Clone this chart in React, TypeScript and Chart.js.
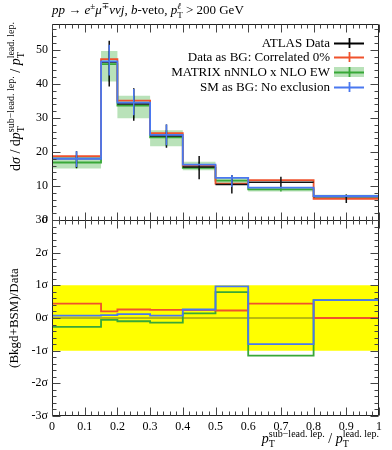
import React, { useEffect, useRef } from "react";
import { Chart, registerables } from "chart.js";

Chart.register(...registerables);

// ---------- data ----------
const binEdges = [0, 0.15, 0.2, 0.3, 0.4, 0.5, 0.6, 0.8, 1.0];

const dataValues = [18.1, 46.4, 34.1, 24.7, 15.6, 10.4, 11.1, 6.8];
const dataErrLo = [15.3, 39.2, 29.2, 21.2, 12.0, 7.8, 9.7, 5.0];
const dataErrHi = [20.2, 52.7, 38.7, 28.1, 18.8, 13.2, 12.7, 7.5];

const redValues = [18.8, 47.3, 35.1, 25.5, 16.0, 10.7, 11.7, 6.2];
const blueValues = [18.0, 46.6, 34.5, 25.0, 16.3, 12.4, 9.5, 7.05];
const blueErrLo = [15.6, 42.5, 30.8, 22.0, null, 9.7, null, null];
const blueErrHi = [20.2, 51.5, 38.5, 28.1, null, 13.2, null, null];

const greenValues = [16.9, 45.8, 33.6, 24.3, 15.3, 11.6, 9.0, 7.0];
const greenBandLo = [15.1, 40.7, 29.9, 21.7, 14.6, 10.8, 8.4, 6.6];
const greenBandHi = [18.8, 49.7, 36.5, 26.4, 17.1, 12.4, 9.6, 7.4];

const redSigma = [0.44, 0.2, 0.26, 0.25, 0.24, 0.23, 0.44, 0.0];
const blueSigma = [0.07, 0.09, 0.12, 0.07, 0.26, 0.97, -0.8, 0.55];
const greenSigma = [-0.27, -0.06, -0.1, -0.14, 0.14, 0.79, -1.15, 0.55];

const legendLabels = [
  "ATLAS Data",
  "Data as BG: Correlated 0%",
  "MATRIX nNNLO x NLO EW",
  "SM as BG: No exclusion",
];

// ---------- styles ----------
const RED = "#f0522c";
const BLUE = "#4a78f0";
const GREEN = "#38a838";
const BAND = "rgba(70,180,70,0.38)";
const FONT = '"Liberation Serif", "DejaVu Serif", serif';

type Pt = { x: number; y: number | null };

function stepPoints(vals: number[]): Pt[] {
  const pts: Pt[] = vals.map((v, i) => ({ x: binEdges[i], y: v }));
  pts.push({ x: binEdges[binEdges.length - 1], y: vals[vals.length - 1] });
  return pts;
}
function hSegments(vals: number[]): Pt[] {
  const pts: Pt[] = [];
  vals.forEach((v, i) => {
    pts.push({ x: binEdges[i], y: v });
    pts.push({ x: binEdges[i + 1], y: v });
    pts.push({ x: binEdges[i + 1], y: null });
  });
  return pts;
}
function vErrors(lo: (number | null)[], hi: (number | null)[]): Pt[] {
  const pts: Pt[] = [];
  lo.forEach((l, i) => {
    const h = hi[i];
    if (l == null || h == null) return;
    const c = (binEdges[i] + binEdges[i + 1]) / 2;
    pts.push({ x: c, y: l });
    pts.push({ x: c, y: h });
    pts.push({ x: c, y: null });
  });
  return pts;
}

function ds(label: string, data: Pt[], color: string, axis: string, extra: any = {}) {
  return {
    label,
    data,
    borderColor: color,
    backgroundColor: color,
    borderWidth: 1.8,
    pointRadius: 0,
    pointHoverRadius: 0,
    spanGaps: false,
    fill: false,
    yAxisID: axis,
    ...extra,
  };
}

// ---------- rich text ----------
type Seg = { t?: string; it?: boolean; sz?: number; sup?: string; sub?: string; supIt?: boolean };
function fnt(it: boolean | undefined, sz: number) {
  return `${it ? "italic " : ""}${sz}px ${FONT}`;
}
function segWidth(ctx: CanvasRenderingContext2D, s: Seg, base: number) {
  if (s.t !== undefined) {
    ctx.font = fnt(s.it, s.sz || base);
    return ctx.measureText(s.t).width;
  }
  const small = Math.round(base * 0.7);
  ctx.font = fnt(s.supIt, small);
  const a = s.sup ? ctx.measureText(s.sup).width : 0;
  ctx.font = fnt(false, small);
  const b = s.sub ? ctx.measureText(s.sub).width : 0;
  return Math.max(a, b);
}
function drawRich(
  ctx: CanvasRenderingContext2D,
  segs: Seg[],
  x: number,
  y: number,
  base: number,
  align: "left" | "right" | "center"
) {
  const total = segs.reduce((a, s) => a + segWidth(ctx, s, base), 0);
  let cx = align === "left" ? x : align === "right" ? x - total : x - total / 2;
  ctx.textAlign = "left";
  ctx.textBaseline = "alphabetic";
  for (const s of segs) {
    const w = segWidth(ctx, s, base);
    if (s.t !== undefined) {
      ctx.font = fnt(s.it, s.sz || base);
      ctx.fillText(s.t, cx, y);
    } else {
      const small = Math.round(base * 0.7);
      if (s.sup) {
        ctx.font = fnt(s.supIt, small);
        ctx.fillText(s.sup, cx, y - base * 0.42);
      }
      if (s.sub) {
        ctx.font = fnt(false, small);
        ctx.fillText(s.sub, cx, y + base * 0.3);
      }
    }
    cx += w;
  }
}

const titleSegs: Seg[] = [
  { t: "pp", it: true },
  { t: " \u2192 " },
  { t: "e", it: true },
  { sup: "\u00b1" },
  { t: "\u03bc", it: true },
  { sup: "\u2213" },
  { t: "\u03bd\u03bdj", it: true },
  { t: ", " },
  { t: "b", it: true },
  { t: "-veto, " },
  { t: "p", it: true },
  { sup: "\u2113", supIt: true, sub: "T" },
  { t: " > 200 GeV" },
];
const yTitleSegs: Seg[] = [
  { t: "d" },
  { t: "\u03c3", it: true },
  { t: " / d" },
  { t: "p", it: true },
  { sup: "sub\u2212lead. lep.", sub: "T" },
  { t: " / " },
  { t: "p", it: true },
  { sup: "lead. lep.", sub: "T" },
];
const xTitleSegs: Seg[] = [
  { t: "p", it: true },
  { sup: "sub\u2212lead. lep.", sub: "T" },
  { t: " / " },
  { t: "p", it: true },
  { sup: "lead. lep.", sub: "T" },
];

const decor = {
  id: "decor",
  afterDraw(chart: any) {
    const ctx: CanvasRenderingContext2D = chart.ctx;
    const xs = chart.scales.x;
    const ys = chart.scales.y;
    const y2 = chart.scales.y2;
    const L = Math.round(chart.chartArea.left) + 0.5;
    const R = Math.round(chart.chartArea.right) - 0.5;
    const T1 = Math.round(ys.top) + 0.5;
    const B1 = Math.round(ys.bottom) + 0.5;
    const B2 = Math.round(y2.bottom) - 0.5;
    ctx.save();
    ctx.strokeStyle = "#222";
    ctx.lineWidth = 1;
    ctx.beginPath();
    ctx.rect(L, T1, R - L, B2 - T1);
    ctx.moveTo(L, B1);
    ctx.lineTo(R, B1);
    ctx.stroke();

    ctx.strokeStyle = "#444";
    ctx.beginPath();
    // x ticks
    for (let i = 0; i <= 50; i++) {
      const v = i * 0.02;
      const px = Math.round(xs.getPixelForValue(v)) + 0.5;
      const len = i % 5 === 0 ? 8 : 4;
      ctx.moveTo(px, T1);
      ctx.lineTo(px, T1 + len);
      ctx.moveTo(px, B1 - len);
      ctx.lineTo(px, B1 + len);
      ctx.moveTo(px, B2);
      ctx.lineTo(px, B2 - len);
    }
    // top y ticks
    for (let i = 0; i <= 28; i++) {
      const v = i * 2;
      const py = Math.round(ys.getPixelForValue(v)) + 0.5;
      const len = i % 5 === 0 ? 8 : 4;
      ctx.moveTo(L, py);
      ctx.lineTo(L + len, py);
      ctx.moveTo(R, py);
      ctx.lineTo(R - len, py);
    }
    // bottom y ticks
    for (let i = -15; i <= 15; i++) {
      const v = i * 0.2;
      const py = Math.round(y2.getPixelForValue(v)) + 0.5;
      const len = i % 5 === 0 ? 8 : 4;
      ctx.moveTo(L, py);
      ctx.lineTo(L + len, py);
      ctx.moveTo(R, py);
      ctx.lineTo(R - len, py);
    }
    ctx.stroke();

    ctx.fillStyle = "#000";
    // title
    drawRich(ctx, titleSegs, 52, 14, 13, "left");
    // x title
    drawRich(ctx, xTitleSegs, R + 0.5, 443, 14, "right");
    // y title top (rotated)
    ctx.save();
    ctx.translate(20, 22);
    ctx.rotate(-Math.PI / 2);
    drawRich(ctx, yTitleSegs, 0, 0, 14, "right");
    ctx.restore();
    // y title bottom
    ctx.save();
    ctx.translate(18, (y2.top + y2.bottom) / 2);
    ctx.rotate(-Math.PI / 2);
    drawRich(ctx, [{ t: "(Bkgd+BSM)/Data" }], 0, 0, 13, "center");
    ctx.restore();

    // legend
    const rows = [43, 57, 72, 87];
    const cols = ["#000", RED, GREEN, BLUE];
    ctx.font = `13px ${FONT}`;
    ctx.textAlign = "right";
    ctx.textBaseline = "middle";
    rows.forEach((ry, i) => {
      ctx.fillStyle = "#000";
      ctx.fillText(legendLabels[i], 330, ry + 1);
      if (i === 2) {
        ctx.fillStyle = BAND;
        ctx.fillRect(334, ry - 5, 30, 10);
      }
      ctx.strokeStyle = cols[i];
      ctx.lineWidth = 1.8;
      ctx.beginPath();
      ctx.moveTo(334, ry + 0.5);
      ctx.lineTo(364, ry + 0.5);
      ctx.moveTo(349.5, ry - 5);
      ctx.lineTo(349.5, ry + 5);
      ctx.stroke();
    });
    ctx.restore();
  },
};

export default function App() {
  const ref = useRef<HTMLCanvasElement | null>(null);
  useEffect(() => {
    if (!ref.current) return;
    const tickFont = { family: FONT, size: 12 };
    const noGrid = { display: false, drawTicks: false };
    const chart = new Chart(ref.current, {
      type: "line",
      data: {
        datasets: [
          ds("blueErr", vErrors(blueErrLo, blueErrHi), BLUE, "y", { borderWidth: 1.5 }),
          ds("blue", stepPoints(blueValues), BLUE, "y", { stepped: "before" }),
          ds("data", hSegments(dataValues), "#111", "y", { borderWidth: 1.5 }),
          ds("dataErr", vErrors(dataErrLo, dataErrHi), "#111", "y", { borderWidth: 1.5 }),
          ds("red", stepPoints(redValues), RED, "y", { stepped: "before" }),
          ds("green", stepPoints(greenValues), GREEN, "y", { stepped: "before" }),
          ds("greenErr", vErrors(greenBandLo, greenBandHi), GREEN, "y", { borderWidth: 1.5 }),
          ds("bandHi", stepPoints(greenBandHi), "rgba(0,0,0,0)", "y", {
            stepped: "before",
            borderWidth: 0,
            fill: "+1",
            backgroundColor: BAND,
          }),
          ds("bandLo", stepPoints(greenBandLo), "rgba(0,0,0,0)", "y", {
            stepped: "before",
            borderWidth: 0,
          }),
          ds("blueSig", stepPoints(blueSigma), BLUE, "y2", { stepped: "before" }),
          ds("redSig", stepPoints(redSigma), RED, "y2", { stepped: "before" }),
          ds("greenSig", stepPoints(greenSigma), GREEN, "y2", { stepped: "before" }),
          ds("zero", [{ x: 0, y: 0 }, { x: 1, y: 0 }], "rgba(60,60,40,0.7)", "y2", { borderWidth: 1 }),
          ds("yellow", [{ x: 0, y: 1 }, { x: 1, y: 1 }], "rgba(0,0,0,0)", "y2", {
            borderWidth: 0,
            fill: { value: -1 },
            backgroundColor: "#ffff00",
          }),
        ],
      },
      options: {
        animation: false,
        responsive: false,
        devicePixelRatio: 1,
        events: [],
        layout: { padding: { left: 0, top: 24, right: 13, bottom: 0 } },
        plugins: { legend: { display: false }, tooltip: { enabled: false } },
        scales: {
          x: {
            type: "linear",
            min: 0,
            max: 1,
            grid: noGrid,
            border: { display: false },
            ticks: {
              stepSize: 0.1,
              includeBounds: false,
              font: tickFont,
              color: "#000",
              padding: 4,
              maxRotation: 0,
              callback: (v: any) => {
                const n = Math.round(Number(v) * 10);
                return n === 0 ? "0" : n === 10 ? "1" : (n / 10).toFixed(1);
              },
            },
            afterFit: (s: any) => {
              s.height = 34;
            },
          },
          y: {
            type: "linear",
            min: 0,
            max: 57.6,
            stack: "v",
            stackWeight: 1,
            weight: 2,
            grid: noGrid,
            border: { display: false },
            ticks: {
              stepSize: 10,
              includeBounds: false,
              font: tickFont,
              color: "#000",
              padding: 4,
              callback: (v: any) => String(Math.round(Number(v))),
            },
            afterFit: (s: any) => {
              s.width = 52;
            },
          },
          y2: {
            type: "linear",
            min: -3,
            max: 3,
            stack: "v",
            stackWeight: 1,
            weight: 1,
            grid: noGrid,
            border: { display: false },
            ticks: {
              stepSize: 1,
              includeBounds: false,
              font: tickFont,
              color: "#000",
              padding: 4,
              callback: (v: any) => `${Math.round(Number(v))}\u03c3`,
            },
            afterFit: (s: any) => {
              s.width = 52;
            },
          },
        },
      } as any,
      plugins: [decor],
    });
    return () => chart.destroy();
  }, []);
  return (
    <div style={{ position: "absolute", left: 0, top: 0, width: 392, height: 450, background: "#fff" }}>
      <canvas ref={ref} width={392} height={450} />
    </div>
  );
}
